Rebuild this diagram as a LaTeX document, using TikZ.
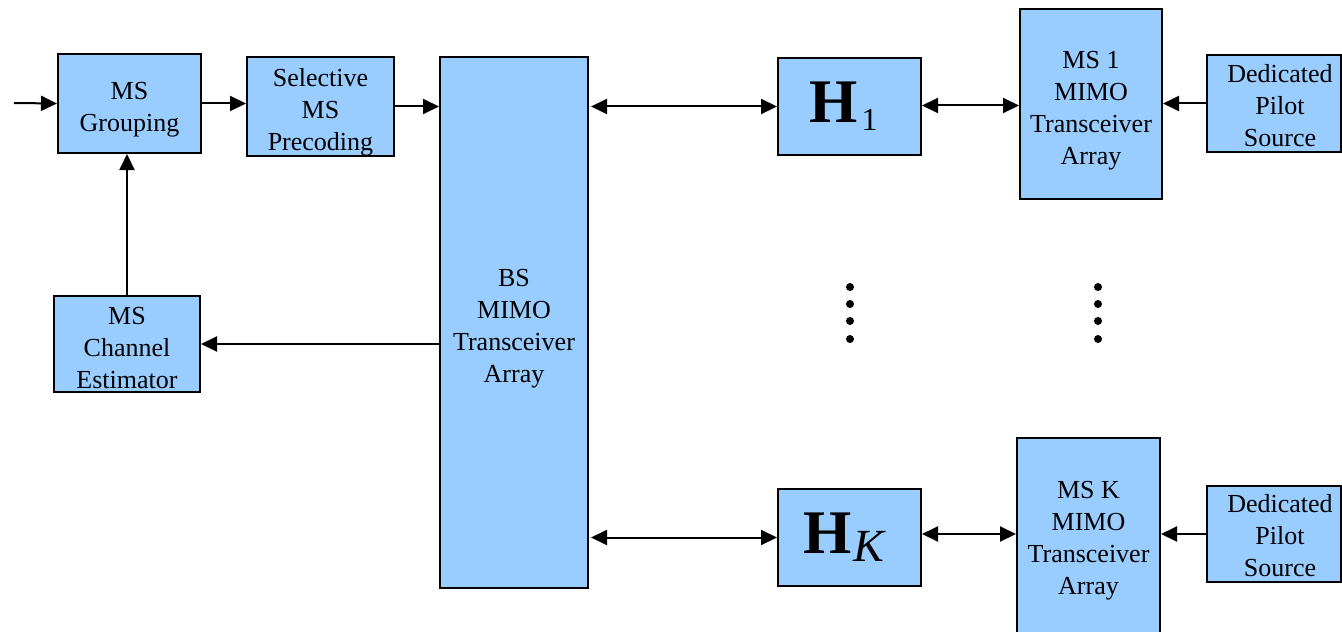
\documentclass[tikz,border=0pt]{standalone}
\usepackage{fontspec}
\setmainfont{Liberation Serif}
\usetikzlibrary{arrows.meta}
\definecolor{boxblue}{HTML}{99CCFF}
\begin{document}
\begin{tikzpicture}[x=0.5pt,y=-0.5pt,
  box/.style={draw=black, line width=1pt, fill=boxblue, inner sep=0pt},
  txt/.style={inner sep=0pt, align=center, font=\fontsize{13}{16}\selectfont},
  conn/.style={line width=1pt, -{Triangle[length=8pt,width=7.5pt]}},
  biconn/.style={line width=1pt, {Triangle[length=8pt,width=7.5pt]}-{Triangle[length=8pt,width=7.5pt]}},
  dot/.style={fill=black}]
\useasboundingbox (0,0) rectangle (1342,631);
% boxes
\node[box, minimum width=71.5pt, minimum height=49.5pt] (grp) at (129.5,103.5) {};
\node[box, minimum width=73.5pt, minimum height=49.5pt] (prec) at (320.5,106.5) {};
\node[box, minimum width=74pt, minimum height=265.5pt] (bs) at (514,322.5) {};
\node[box, minimum width=73pt, minimum height=48pt] (est) at (127,344) {};
\node[box, minimum width=71.5pt, minimum height=48.5pt] (h1) at (849.5,106.5) {};
\node[box, minimum width=71.5pt, minimum height=48.5pt] (hk) at (849.5,537.5) {};
\node[box, minimum width=71pt, minimum height=95pt] (ms1) at (1091,104) {};
\node[box, minimum width=71.5pt, minimum height=101pt] (msk) at (1088.5,539) {};
\node[box, minimum width=67pt, minimum height=48.5pt] (p1) at (1274,103.5) {};
\node[box, minimum width=67pt, minimum height=48pt] (pk) at (1274,534) {};
% texts
\node[txt] (grp-t) at ([yshift=-3pt]grp.center) {MS\\Grouping};
\node[txt] (prec-t) at ([yshift=-3pt]prec.center) {Selective\\MS\\Precoding};
\node[txt] (bs-t) at ([yshift=-3pt]bs.center) {BS\\MIMO\\Transceiver\\Array};
\node[txt] (est-t) at ([yshift=-2pt]est.center) {MS\\Channel\\Estimator};
\node[txt] (ms1-t) at ([yshift=-3.5pt]ms1.center) {MS 1\\MIMO\\Transceiver\\Array};
\node[txt] (msk-t) at ([yshift=-1pt]msk.center) {MS K\\MIMO\\Transceiver\\Array};
\node[txt] (p1-t) at ([xshift=3pt,yshift=-1pt]p1.center) {Dedicated\\Pilot\\Source};
\node[txt] (pk-t) at ([xshift=3pt,yshift=-1pt]pk.center) {Dedicated\\Pilot\\Source};
\node[txt] (h1-t) at ([xshift=-3pt]h1.center)
  {\fontsize{31}{31}\selectfont\bfseries H\kern2pt\raisebox{-4pt}{\fontsize{16}{16}\selectfont\mdseries 1}};
\node[txt] (hk-t) at ([xshift=-3pt]hk.center)
  {\fontsize{31}{31}\selectfont\bfseries H\kern1pt\raisebox{-4pt}{\fontsize{23}{23}\selectfont\mdseries\itshape K}};
% connectors
\coordinate (in) at (14,103);
\coordinate (h1e) at ([yshift=0.5pt]h1.east);
\coordinate (hke) at ([yshift=1.75pt]hk.east);
\draw[conn] (in) -- (grp.west);
\draw[conn] (grp.east) -- (prec.west |- grp.east);
\draw[conn] (prec.east) -- (bs.west |- prec.east);
\draw[conn] (est.north) -- (est.north |- grp.south);
\draw[conn] (bs.west |- est.east) -- (est.east);
\draw[biconn] ([xshift=1pt]bs.east |- h1.west) -- (h1.west);
\draw[biconn] (h1e) -- (ms1.west |- h1e);
\draw[conn] (p1.west) -- (ms1.east |- p1.west);
\draw[biconn] ([xshift=1pt]bs.east |- hk.west) -- (hk.west);
\draw[biconn] (hke) -- (msk.west |- hke);
\draw[conn] (pk.west) -- (msk.east |- pk.west);
\foreach \yy in {287,304,321,339} {
  \fill[dot] (850,\yy) circle[radius=4];
  \fill[dot] (1098,\yy) circle[radius=4];
}
\end{tikzpicture}
\end{document}
